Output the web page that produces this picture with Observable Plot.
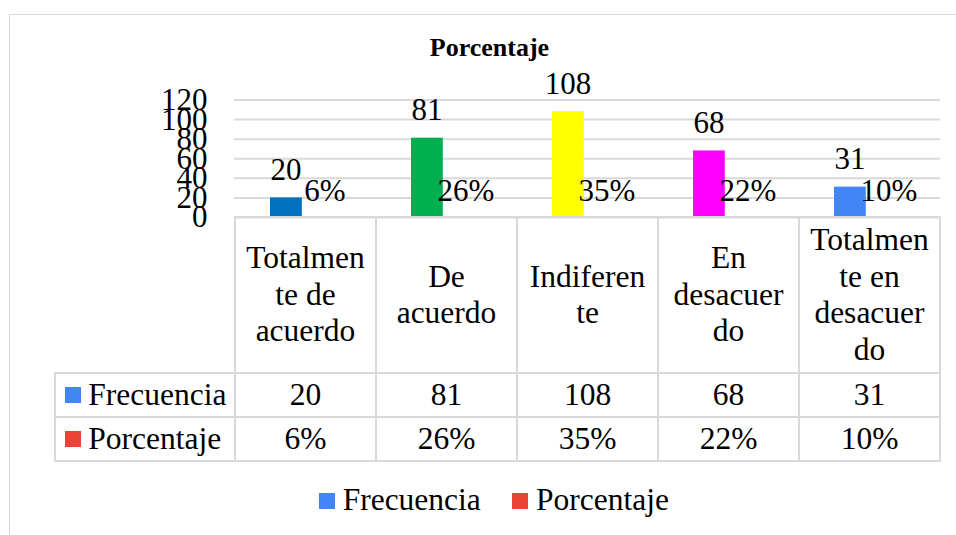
<!DOCTYPE html>
<html>
<head>
<meta charset="utf-8">
<script src="https://cdn.jsdelivr.net/npm/d3@7"></script>
<script src="https://cdn.jsdelivr.net/npm/@observablehq/plot@0.6"></script>
<style>
  html, body { margin: 0; padding: 0; background: #fff; }
  #wrap { position: relative; width: 956px; height: 535px; overflow: hidden; background: #fff;
          font-family: "Liberation Serif", "Times New Roman", serif; color: #000; }
  #wrap svg text { font-family: "Liberation Serif", "Times New Roman", serif; }
  .abs { position: absolute; }
  .cell { position: absolute; display: flex; align-items: center; justify-content: center;
          text-align: center; font-size: 31.5px; line-height: 36.5px; box-sizing: border-box; }
  .hline, .vline { position: absolute; background: #d9d9d9; }
</style>
</head>
<body>
<div id="wrap"></div>
<script>
// ---- data ----
const title = "Porcentaje";
const categories = ["Totalmente de acuerdo", "De acuerdo", "Indiferente", "En desacuerdo", "Totalmente en desacuerdo"];
const categoryLines = [
  ["Totalmen", "te de", "acuerdo"],
  ["De", "acuerdo"],
  ["Indiferen", "te"],
  ["En", "desacuer", "do"],
  ["Totalmen", "te en", "desacuer", "do"]
];
const frecuencia = [20, 81, 108, 68, 31];
const porcentaje = [0.06, 0.26, 0.35, 0.22, 0.10];
const barColors = ["#0070C0", "#00B050", "#FFFF00", "#FF00FF", "#4285F4"];
const seriesNames = ["Frecuencia", "Porcentaje"];
const seriesColors = ["#4285F4", "#EA4335"];
const yTicks = [0, 20, 40, 60, 80, 100, 120];

// ---- layout ----
const wrap = document.getElementById("wrap");
const pctFmt = d3.format(".0%");
const FONT = '"Liberation Serif", "Times New Roman", serif';

// outer chart border (extends beyond the visible area)
const frame = document.createElement("div");
frame.className = "abs";
Object.assign(frame.style, { left: "9px", top: "14px", width: "1200px", height: "1200px",
  borderLeft: "1.5px solid #d9d9d9", borderTop: "1.5px solid #d9d9d9" });
wrap.appendChild(frame);

// title
const t = document.createElement("div");
t.className = "abs";
Object.assign(t.style, { left: "0px", top: "33px", width: "979px", textAlign: "center",
  fontWeight: "bold", fontSize: "26px", lineHeight: "30px" });
t.textContent = title;
wrap.appendChild(t);

// chart
const freqData = categories.map((c, i) => ({ category: c, value: frecuencia[i] }));
const pctData = categories.map((c, i) => ({ category: c, value: porcentaje[i] }));

const SVG_TOP = 60;
const chart = Plot.plot({
  width: 956,
  height: 165,
  marginLeft: 234,
  marginRight: 16,
  marginTop: 39.5,
  marginBottom: 8,
  style: { background: "transparent", fontFamily: FONT, fontSize: "31px", color: "#000", overflow: "visible" },
  x: { domain: categories, padding: 0, axis: null },
  y: { domain: [0, 120], label: null },
  color: { domain: categories, range: barColors },
  marks: [
    Plot.gridY(yTicks, { stroke: "#d9d9d9", strokeOpacity: 1, strokeWidth: 2 }),
    Plot.axisY(yTicks, { tickSize: 0, tickPadding: 27, fontSize: 31, fontFamily: FONT, fontVariant: "normal", label: null, fill: "#000" }),
    Plot.barY(freqData, { x: "category", y: "value", fill: "category", insetLeft: 35, insetRight: 74.2 }),
    Plot.barY(pctData, { x: "category", y: "value", fill: seriesColors[1], insetLeft: 73.6, insetRight: 35.6 }),
    Plot.text(freqData, { x: "category", y: "value", text: d => String(d.value), dx: -20, dy: -28, fontSize: 31, fontFamily: FONT, fill: "#000" }),
    Plot.text(pctData, { x: "category", y: "value", text: d => pctFmt(d.value), dx: 19, dy: -26.5, fontSize: 31, fontFamily: FONT, fill: "#000" })
  ]
});
chart.style.position = "absolute";
chart.style.left = "0px";
chart.style.top = SVG_TOP + "px";
wrap.appendChild(chart);

// ---- data table (columns follow the chart's x scale) ----
const xs = chart.scale("x");
const bw = xs.bandwidth;
const colLeft = categories.map(c => xs.apply(c));
const tableLeft = 55;
const plotLeft = colLeft[0];
const plotRight = colLeft[colLeft.length - 1] + bw;
const rowY = [217, 373, 417, 461]; // header top, row1 top, row2 top, bottom
const LW = 2;

function hline(x1, x2, y) {
  const d = document.createElement("div");
  d.className = "hline";
  Object.assign(d.style, { left: x1 - LW / 2 + "px", top: y - LW / 2 + "px", width: (x2 - x1 + LW) + "px", height: LW + "px" });
  wrap.appendChild(d);
}
function vline(x, y1, y2) {
  const d = document.createElement("div");
  d.className = "vline";
  Object.assign(d.style, { left: x - LW / 2 + "px", top: y1 - LW / 2 + "px", width: LW + "px", height: (y2 - y1 + LW) + "px" });
  wrap.appendChild(d);
}
function cell(x1, x2, y1, y2, html, extra) {
  const d = document.createElement("div");
  d.className = "cell";
  Object.assign(d.style, { left: x1 + "px", top: y1 + "px", width: (x2 - x1) + "px", height: (y2 - y1) + "px" }, extra || {});
  d.innerHTML = html;
  wrap.appendChild(d);
  return d;
}

hline(plotLeft, plotRight, rowY[0]);
hline(tableLeft, plotRight, rowY[1]);
hline(tableLeft, plotRight, rowY[2]);
hline(tableLeft, plotRight, rowY[3]);
vline(tableLeft, rowY[1], rowY[3]);
colLeft.forEach(x => vline(x, rowY[0], rowY[3]));
vline(plotRight, rowY[0], rowY[3]);

// header cells (category labels)
categories.forEach((c, i) => {
  cell(colLeft[i], colLeft[i] + bw, rowY[0], rowY[1], categoryLines[i].join("<br>"));
});
// row labels with keys
const rowsVals = [frecuencia.map(String), porcentaje.map(pctFmt)];
seriesNames.forEach((s, r) => {
  cell(tableLeft, plotLeft, rowY[r + 1], rowY[r + 2],
    `<span style="display:inline-block;width:15.7px;height:15.7px;background:${seriesColors[r]};margin-right:7.6px"></span><span>${s}</span>`,
    { justifyContent: "flex-start", paddingLeft: "10px", whiteSpace: "nowrap" });
  rowsVals[r].forEach((v, i) => {
    cell(colLeft[i], colLeft[i] + bw, rowY[r + 1], rowY[r + 2], v);
  });
});

// ---- legend ----
const lg = document.createElement("div");
lg.className = "abs";
Object.assign(lg.style, { left: "0px", top: "482px", width: "988px", display: "flex", justifyContent: "center",
  alignItems: "center", fontSize: "31.5px", lineHeight: "36.5px", whiteSpace: "nowrap" });
lg.innerHTML = seriesNames.map((s, i) =>
  `<span style="display:inline-flex;align-items:center;${i ? "margin-left:31.6px;" : ""}">` +
  `<span style="display:inline-block;width:16px;height:16px;background:${seriesColors[i]};margin-right:7.7px;position:relative;top:1px"></span>${s}</span>`
).join("");
wrap.appendChild(lg);
</script>
</body>
</html>
